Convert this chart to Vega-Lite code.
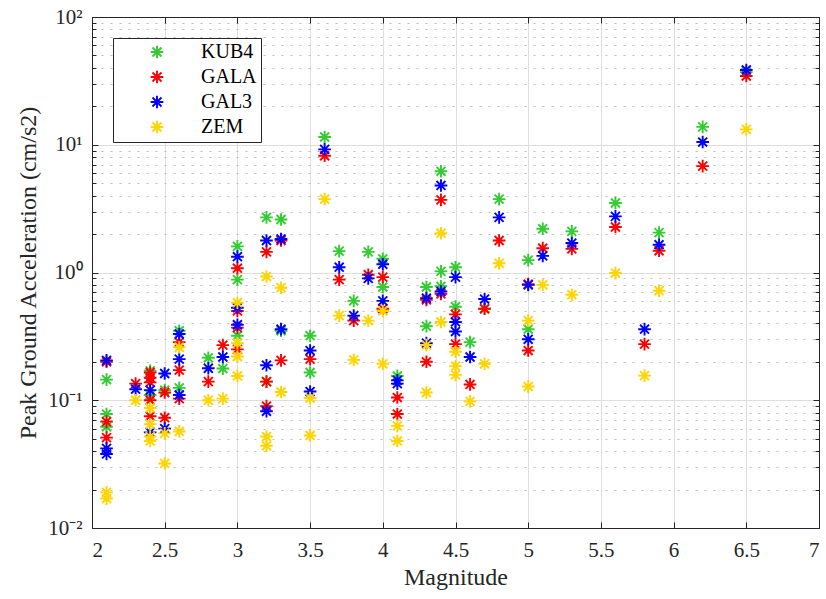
{
  "$schema": "https://vega.github.io/schema/vega-lite/v6.json",
  "width": 727,
  "height": 511,
  "autosize": "none",
  "padding": {"left": 92, "top": 17, "right": 7, "bottom": 71},
  "background": "white",
  "config": {
    "font": "'Liberation Serif', 'Times New Roman', serif",
    "view": {"stroke": "#262626", "strokeWidth": 1},
    "axis": {
      "labelFont": "'Liberation Serif', 'Times New Roman', serif",
      "titleFont": "'Liberation Serif', 'Times New Roman', serif",
      "labelColor": "#262626",
      "titleColor": "#262626",
      "labelFontSize": 21,
      "titleFontSize": 24,
      "titleFontWeight": "normal",
      "domainColor": "#262626",
      "tickColor": "#262626",
      "tickWidth": 1
    },
    "legend": {
      "labelFont": "'Liberation Serif', 'Times New Roman', serif"
    }
  },
  "data": {
    "values": [
      {"Magnitude": 2.1, "PGA": 0.145, "Station": "KUB4"},
      {"Magnitude": 2.1, "PGA": 0.078, "Station": "KUB4"},
      {"Magnitude": 2.1, "PGA": 0.062, "Station": "KUB4"},
      {"Magnitude": 2.4, "PGA": 0.17, "Station": "KUB4"},
      {"Magnitude": 2.4, "PGA": 0.11, "Station": "KUB4"},
      {"Magnitude": 2.5, "PGA": 0.12, "Station": "KUB4"},
      {"Magnitude": 2.6, "PGA": 0.35, "Station": "KUB4"},
      {"Magnitude": 2.6, "PGA": 0.125, "Station": "KUB4"},
      {"Magnitude": 2.8, "PGA": 0.215, "Station": "KUB4"},
      {"Magnitude": 2.9, "PGA": 0.177, "Station": "KUB4"},
      {"Magnitude": 3.0, "PGA": 1.6, "Station": "KUB4"},
      {"Magnitude": 3.0, "PGA": 0.88, "Station": "KUB4"},
      {"Magnitude": 3.0, "PGA": 0.32, "Station": "KUB4"},
      {"Magnitude": 3.2, "PGA": 2.7, "Station": "KUB4"},
      {"Magnitude": 3.2, "PGA": 0.14, "Station": "KUB4"},
      {"Magnitude": 3.3, "PGA": 2.6, "Station": "KUB4"},
      {"Magnitude": 3.3, "PGA": 0.35, "Station": "KUB4"},
      {"Magnitude": 3.5, "PGA": 0.32, "Station": "KUB4"},
      {"Magnitude": 3.5, "PGA": 0.165, "Station": "KUB4"},
      {"Magnitude": 3.6, "PGA": 11.5, "Station": "KUB4"},
      {"Magnitude": 3.7, "PGA": 1.47, "Station": "KUB4"},
      {"Magnitude": 3.8, "PGA": 0.6, "Station": "KUB4"},
      {"Magnitude": 3.9, "PGA": 1.45, "Station": "KUB4"},
      {"Magnitude": 4.0, "PGA": 1.28, "Station": "KUB4"},
      {"Magnitude": 4.0, "PGA": 0.77, "Station": "KUB4"},
      {"Magnitude": 4.1, "PGA": 0.155, "Station": "KUB4"},
      {"Magnitude": 4.3, "PGA": 0.77, "Station": "KUB4"},
      {"Magnitude": 4.3, "PGA": 0.38, "Station": "KUB4"},
      {"Magnitude": 4.4, "PGA": 6.2, "Station": "KUB4"},
      {"Magnitude": 4.4, "PGA": 1.02, "Station": "KUB4"},
      {"Magnitude": 4.4, "PGA": 0.78, "Station": "KUB4"},
      {"Magnitude": 4.5, "PGA": 1.1, "Station": "KUB4"},
      {"Magnitude": 4.5, "PGA": 0.54, "Station": "KUB4"},
      {"Magnitude": 4.6, "PGA": 0.285, "Station": "KUB4"},
      {"Magnitude": 4.7, "PGA": 0.52, "Station": "KUB4"},
      {"Magnitude": 4.8, "PGA": 3.75, "Station": "KUB4"},
      {"Magnitude": 5.0, "PGA": 1.25, "Station": "KUB4"},
      {"Magnitude": 5.0, "PGA": 0.36, "Station": "KUB4"},
      {"Magnitude": 5.1, "PGA": 2.2, "Station": "KUB4"},
      {"Magnitude": 5.3, "PGA": 2.1, "Station": "KUB4"},
      {"Magnitude": 5.6, "PGA": 3.5, "Station": "KUB4"},
      {"Magnitude": 5.9, "PGA": 2.05, "Station": "KUB4"},
      {"Magnitude": 6.2, "PGA": 13.8, "Station": "KUB4"},
      {"Magnitude": 6.5, "PGA": 37, "Station": "KUB4"},

      {"Magnitude": 2.1, "PGA": 0.2, "Station": "GALA"},
      {"Magnitude": 2.1, "PGA": 0.068, "Station": "GALA"},
      {"Magnitude": 2.1, "PGA": 0.051, "Station": "GALA"},
      {"Magnitude": 2.3, "PGA": 0.135, "Station": "GALA"},
      {"Magnitude": 2.4, "PGA": 0.165, "Station": "GALA"},
      {"Magnitude": 2.4, "PGA": 0.15, "Station": "GALA"},
      {"Magnitude": 2.4, "PGA": 0.138, "Station": "GALA"},
      {"Magnitude": 2.4, "PGA": 0.1, "Station": "GALA"},
      {"Magnitude": 2.4, "PGA": 0.075, "Station": "GALA"},
      {"Magnitude": 2.5, "PGA": 0.115, "Station": "GALA"},
      {"Magnitude": 2.5, "PGA": 0.073, "Station": "GALA"},
      {"Magnitude": 2.6, "PGA": 0.285, "Station": "GALA"},
      {"Magnitude": 2.6, "PGA": 0.172, "Station": "GALA"},
      {"Magnitude": 2.6, "PGA": 0.103, "Station": "GALA"},
      {"Magnitude": 2.8, "PGA": 0.14, "Station": "GALA"},
      {"Magnitude": 2.9, "PGA": 0.27, "Station": "GALA"},
      {"Magnitude": 3.0, "PGA": 1.08, "Station": "GALA"},
      {"Magnitude": 3.0, "PGA": 0.5, "Station": "GALA"},
      {"Magnitude": 3.0, "PGA": 0.37, "Station": "GALA"},
      {"Magnitude": 3.0, "PGA": 0.25, "Station": "GALA"},
      {"Magnitude": 3.2, "PGA": 1.45, "Station": "GALA"},
      {"Magnitude": 3.2, "PGA": 0.14, "Station": "GALA"},
      {"Magnitude": 3.2, "PGA": 0.09, "Station": "GALA"},
      {"Magnitude": 3.3, "PGA": 1.78, "Station": "GALA"},
      {"Magnitude": 3.3, "PGA": 0.205, "Station": "GALA"},
      {"Magnitude": 3.5, "PGA": 0.21, "Station": "GALA"},
      {"Magnitude": 3.6, "PGA": 8.2, "Station": "GALA"},
      {"Magnitude": 3.7, "PGA": 0.88, "Station": "GALA"},
      {"Magnitude": 3.8, "PGA": 0.42, "Station": "GALA"},
      {"Magnitude": 3.9, "PGA": 0.96, "Station": "GALA"},
      {"Magnitude": 4.0, "PGA": 0.92, "Station": "GALA"},
      {"Magnitude": 4.0, "PGA": 0.52, "Station": "GALA"},
      {"Magnitude": 4.1, "PGA": 0.105, "Station": "GALA"},
      {"Magnitude": 4.1, "PGA": 0.078, "Station": "GALA"},
      {"Magnitude": 4.3, "PGA": 0.61, "Station": "GALA"},
      {"Magnitude": 4.3, "PGA": 0.2, "Station": "GALA"},
      {"Magnitude": 4.4, "PGA": 3.7, "Station": "GALA"},
      {"Magnitude": 4.4, "PGA": 0.68, "Station": "GALA"},
      {"Magnitude": 4.5, "PGA": 0.47, "Station": "GALA"},
      {"Magnitude": 4.5, "PGA": 0.275, "Station": "GALA"},
      {"Magnitude": 4.6, "PGA": 0.133, "Station": "GALA"},
      {"Magnitude": 4.7, "PGA": 0.52, "Station": "GALA"},
      {"Magnitude": 4.8, "PGA": 1.78, "Station": "GALA"},
      {"Magnitude": 5.0, "PGA": 0.81, "Station": "GALA"},
      {"Magnitude": 5.0, "PGA": 0.245, "Station": "GALA"},
      {"Magnitude": 5.1, "PGA": 1.55, "Station": "GALA"},
      {"Magnitude": 5.3, "PGA": 1.53, "Station": "GALA"},
      {"Magnitude": 5.6, "PGA": 2.27, "Station": "GALA"},
      {"Magnitude": 5.8, "PGA": 0.275, "Station": "GALA"},
      {"Magnitude": 5.9, "PGA": 1.48, "Station": "GALA"},
      {"Magnitude": 6.2, "PGA": 6.8, "Station": "GALA"},
      {"Magnitude": 6.5, "PGA": 34.5, "Station": "GALA"},

      {"Magnitude": 2.1, "PGA": 0.205, "Station": "GAL3"},
      {"Magnitude": 2.1, "PGA": 0.042, "Station": "GAL3"},
      {"Magnitude": 2.1, "PGA": 0.038, "Station": "GAL3"},
      {"Magnitude": 2.3, "PGA": 0.122, "Station": "GAL3"},
      {"Magnitude": 2.4, "PGA": 0.12, "Station": "GAL3"},
      {"Magnitude": 2.4, "PGA": 0.056, "Station": "GAL3"},
      {"Magnitude": 2.5, "PGA": 0.162, "Station": "GAL3"},
      {"Magnitude": 2.5, "PGA": 0.06, "Station": "GAL3"},
      {"Magnitude": 2.6, "PGA": 0.33, "Station": "GAL3"},
      {"Magnitude": 2.6, "PGA": 0.21, "Station": "GAL3"},
      {"Magnitude": 2.6, "PGA": 0.11, "Station": "GAL3"},
      {"Magnitude": 2.8, "PGA": 0.178, "Station": "GAL3"},
      {"Magnitude": 2.9, "PGA": 0.218, "Station": "GAL3"},
      {"Magnitude": 3.0, "PGA": 1.33, "Station": "GAL3"},
      {"Magnitude": 3.0, "PGA": 0.53, "Station": "GAL3"},
      {"Magnitude": 3.0, "PGA": 0.39, "Station": "GAL3"},
      {"Magnitude": 3.2, "PGA": 1.78, "Station": "GAL3"},
      {"Magnitude": 3.2, "PGA": 0.188, "Station": "GAL3"},
      {"Magnitude": 3.2, "PGA": 0.082, "Station": "GAL3"},
      {"Magnitude": 3.3, "PGA": 1.83, "Station": "GAL3"},
      {"Magnitude": 3.3, "PGA": 0.36, "Station": "GAL3"},
      {"Magnitude": 3.5, "PGA": 0.245, "Station": "GAL3"},
      {"Magnitude": 3.5, "PGA": 0.117, "Station": "GAL3"},
      {"Magnitude": 3.6, "PGA": 9.2, "Station": "GAL3"},
      {"Magnitude": 3.7, "PGA": 1.1, "Station": "GAL3"},
      {"Magnitude": 3.8, "PGA": 0.46, "Station": "GAL3"},
      {"Magnitude": 3.9, "PGA": 0.9, "Station": "GAL3"},
      {"Magnitude": 4.0, "PGA": 1.16, "Station": "GAL3"},
      {"Magnitude": 4.0, "PGA": 0.6, "Station": "GAL3"},
      {"Magnitude": 4.1, "PGA": 0.143, "Station": "GAL3"},
      {"Magnitude": 4.1, "PGA": 0.135, "Station": "GAL3"},
      {"Magnitude": 4.3, "PGA": 0.63, "Station": "GAL3"},
      {"Magnitude": 4.3, "PGA": 0.28, "Station": "GAL3"},
      {"Magnitude": 4.4, "PGA": 4.8, "Station": "GAL3"},
      {"Magnitude": 4.4, "PGA": 0.71, "Station": "GAL3"},
      {"Magnitude": 4.5, "PGA": 0.92, "Station": "GAL3"},
      {"Magnitude": 4.5, "PGA": 0.41, "Station": "GAL3"},
      {"Magnitude": 4.5, "PGA": 0.345, "Station": "GAL3"},
      {"Magnitude": 4.6, "PGA": 0.218, "Station": "GAL3"},
      {"Magnitude": 4.7, "PGA": 0.62, "Station": "GAL3"},
      {"Magnitude": 4.8, "PGA": 2.7, "Station": "GAL3"},
      {"Magnitude": 5.0, "PGA": 0.8, "Station": "GAL3"},
      {"Magnitude": 5.0, "PGA": 0.3, "Station": "GAL3"},
      {"Magnitude": 5.1, "PGA": 1.35, "Station": "GAL3"},
      {"Magnitude": 5.3, "PGA": 1.7, "Station": "GAL3"},
      {"Magnitude": 5.6, "PGA": 2.75, "Station": "GAL3"},
      {"Magnitude": 5.8, "PGA": 0.36, "Station": "GAL3"},
      {"Magnitude": 5.9, "PGA": 1.65, "Station": "GAL3"},
      {"Magnitude": 6.2, "PGA": 10.5, "Station": "GAL3"},
      {"Magnitude": 6.5, "PGA": 38.5, "Station": "GAL3"},

      {"Magnitude": 2.1, "PGA": 0.019, "Station": "ZEM"},
      {"Magnitude": 2.1, "PGA": 0.017, "Station": "ZEM"},
      {"Magnitude": 2.3, "PGA": 0.1, "Station": "ZEM"},
      {"Magnitude": 2.4, "PGA": 0.087, "Station": "ZEM"},
      {"Magnitude": 2.4, "PGA": 0.065, "Station": "ZEM"},
      {"Magnitude": 2.4, "PGA": 0.052, "Station": "ZEM"},
      {"Magnitude": 2.4, "PGA": 0.048, "Station": "ZEM"},
      {"Magnitude": 2.5, "PGA": 0.055, "Station": "ZEM"},
      {"Magnitude": 2.5, "PGA": 0.032, "Station": "ZEM"},
      {"Magnitude": 2.6, "PGA": 0.26, "Station": "ZEM"},
      {"Magnitude": 2.6, "PGA": 0.057, "Station": "ZEM"},
      {"Magnitude": 2.8, "PGA": 0.1, "Station": "ZEM"},
      {"Magnitude": 2.9, "PGA": 0.103, "Station": "ZEM"},
      {"Magnitude": 3.0, "PGA": 0.58, "Station": "ZEM"},
      {"Magnitude": 3.0, "PGA": 0.28, "Station": "ZEM"},
      {"Magnitude": 3.0, "PGA": 0.22, "Station": "ZEM"},
      {"Magnitude": 3.0, "PGA": 0.155, "Station": "ZEM"},
      {"Magnitude": 3.2, "PGA": 0.93, "Station": "ZEM"},
      {"Magnitude": 3.2, "PGA": 0.052, "Station": "ZEM"},
      {"Magnitude": 3.2, "PGA": 0.044, "Station": "ZEM"},
      {"Magnitude": 3.3, "PGA": 0.76, "Station": "ZEM"},
      {"Magnitude": 3.3, "PGA": 0.116, "Station": "ZEM"},
      {"Magnitude": 3.5, "PGA": 0.104, "Station": "ZEM"},
      {"Magnitude": 3.5, "PGA": 0.053, "Station": "ZEM"},
      {"Magnitude": 3.6, "PGA": 3.75, "Station": "ZEM"},
      {"Magnitude": 3.7, "PGA": 0.46, "Station": "ZEM"},
      {"Magnitude": 3.8, "PGA": 0.207, "Station": "ZEM"},
      {"Magnitude": 3.9, "PGA": 0.42, "Station": "ZEM"},
      {"Magnitude": 4.0, "PGA": 0.5, "Station": "ZEM"},
      {"Magnitude": 4.0, "PGA": 0.193, "Station": "ZEM"},
      {"Magnitude": 4.1, "PGA": 0.063, "Station": "ZEM"},
      {"Magnitude": 4.1, "PGA": 0.048, "Station": "ZEM"},
      {"Magnitude": 4.3, "PGA": 0.27, "Station": "ZEM"},
      {"Magnitude": 4.3, "PGA": 0.115, "Station": "ZEM"},
      {"Magnitude": 4.4, "PGA": 2.03, "Station": "ZEM"},
      {"Magnitude": 4.4, "PGA": 0.41, "Station": "ZEM"},
      {"Magnitude": 4.5, "PGA": 0.24, "Station": "ZEM"},
      {"Magnitude": 4.5, "PGA": 0.185, "Station": "ZEM"},
      {"Magnitude": 4.5, "PGA": 0.158, "Station": "ZEM"},
      {"Magnitude": 4.6, "PGA": 0.098, "Station": "ZEM"},
      {"Magnitude": 4.7, "PGA": 0.193, "Station": "ZEM"},
      {"Magnitude": 4.8, "PGA": 1.18, "Station": "ZEM"},
      {"Magnitude": 5.0, "PGA": 0.42, "Station": "ZEM"},
      {"Magnitude": 5.0, "PGA": 0.128, "Station": "ZEM"},
      {"Magnitude": 5.1, "PGA": 0.8, "Station": "ZEM"},
      {"Magnitude": 5.3, "PGA": 0.67, "Station": "ZEM"},
      {"Magnitude": 5.6, "PGA": 0.99, "Station": "ZEM"},
      {"Magnitude": 5.8, "PGA": 0.156, "Station": "ZEM"},
      {"Magnitude": 5.9, "PGA": 0.72, "Station": "ZEM"},
      {"Magnitude": 6.5, "PGA": 13.2, "Station": "ZEM"}
    ]
  },
  "layer": [
    {
      "mark": {
        "type": "point",
        "shape": "M-1,0H1M0,-1V1M-0.707,-0.707L0.707,0.707M-0.707,0.707L0.707,-0.707",
        "filled": false,
        "size": 160,
        "strokeWidth": 1.9,
        "opacity": 1
      },
      "encoding": {
        "x": {
          "field": "Magnitude",
          "type": "quantitative",
          "scale": {"domain": [2, 7], "nice": false, "zero": false},
          "axis": {
            "title": "Magnitude",
            "values": [2, 2.5, 3, 3.5, 4, 4.5, 5, 5.5, 6, 6.5, 7],
            "format": "~g",
            "tickSize": -6,
            "labelPadding": 17,
            "titlePadding": 5,
            "grid": true,
            "gridColor": "#dedede",
            "gridWidth": 1
          }
        },
        "y": {
          "field": "PGA",
          "type": "quantitative",
          "scale": {"type": "log", "domain": [0.01, 100], "nice": false},
          "axis": {
            "title": "Peak Ground Acceleration (cm/s2)",
            "values": [0.01, 0.02, 0.03, 0.04, 0.05, 0.06, 0.07, 0.08, 0.09, 0.1, 0.2, 0.3, 0.4, 0.5, 0.6, 0.7, 0.8, 0.9, 1, 2, 3, 4, 5, 6, 7, 8, 9, 10, 20, 30, 40, 50, 60, 70, 80, 90, 100],
            "labelExpr": "datum.value == 100 ? '10²' : datum.value == 10 ? '10¹' : datum.value == 1 ? '10⁰' : datum.value == 0.1 ? '10⁻¹' : datum.value == 0.01 ? '10⁻²' : ''",
            "tickSize": {"condition": {"test": "indexof([0.01, 0.1, 1, 10, 100], datum.value) >= 0", "value": -6}, "value": -4},
            "labelPadding": 16,
            "titlePadding": 7,
            "grid": true,
            "gridColor": {"condition": {"test": "indexof([0.01, 0.1, 1, 10, 100], datum.value) >= 0", "value": "#dedede"}, "value": "#bdbdbd"},
            "gridDash": {"condition": {"test": "indexof([0.01, 0.1, 1, 10, 100], datum.value) >= 0", "value": []}, "value": [2, 7]},
            "gridWidth": 1
          }
        },
        "color": {
          "field": "Station",
          "type": "nominal",
          "scale": {
            "domain": ["KUB4", "GALA", "GAL3", "ZEM"],
            "range": ["#33cc33", "#ff0000", "#0000ff", "#ffd400"]
          },
          "legend": {
            "title": null,
            "orient": "none",
            "legendX": 21,
            "legendY": 21,
            "direction": "vertical",
            "strokeColor": "#262626",
            "fillColor": "white",
            "padding": 4,
            "labelFontSize": 20,
            "labelColor": "#000000",
            "symbolType": "M-1,0H1M0,-1V1M-0.707,-0.707L0.707,0.707M-0.707,0.707L0.707,-0.707",
            "symbolSize": 160,
            "symbolStrokeWidth": 1.9,
            "symbolOffset": 30,
            "labelOffset": 34,
            "rowPadding": 3
          }
        }
      }
    },
    {
      "mark": {"type": "point", "opacity": 0},
      "encoding": {
        "x": {
          "field": "Magnitude",
          "type": "quantitative",
          "scale": {"domain": [2, 7], "nice": false, "zero": false},
          "axis": {
            "orient": "top",
            "title": null,
            "labels": false,
            "grid": false,
            "values": [2, 2.5, 3, 3.5, 4, 4.5, 5, 5.5, 6, 6.5, 7],
            "tickSize": -6
          }
        },
        "y": {
          "field": "PGA",
          "type": "quantitative",
          "scale": {"type": "log", "domain": [0.01, 100], "nice": false},
          "axis": {
            "orient": "right",
            "title": null,
            "labels": false,
            "grid": false,
            "values": [0.01, 0.02, 0.03, 0.04, 0.05, 0.06, 0.07, 0.08, 0.09, 0.1, 0.2, 0.3, 0.4, 0.5, 0.6, 0.7, 0.8, 0.9, 1, 2, 3, 4, 5, 6, 7, 8, 9, 10, 20, 30, 40, 50, 60, 70, 80, 90, 100],
            "tickSize": {"condition": {"test": "indexof([0.01, 0.1, 1, 10, 100], datum.value) >= 0", "value": -6}, "value": -4}
          }
        }
      }
    }
  ],
  "resolve": {"axis": {"x": "independent", "y": "independent"}}
}
